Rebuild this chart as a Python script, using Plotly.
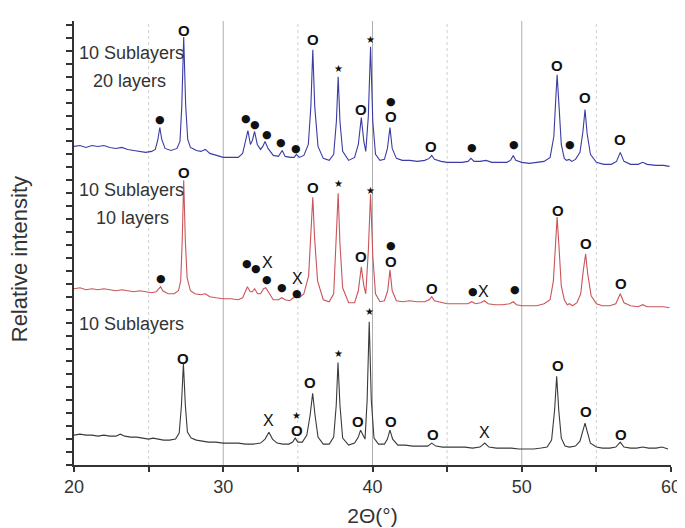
import plotly.graph_objects as go

# ---------------- data ----------------
two_theta_ticks = [20, 30, 40, 50, 60]
grid_major = [30, 40, 50]
grid_minor = [25, 35, 45, 55]

blue_pts = [(20.0, 320), (20.4, 321), (20.8, 319), (21.2, 321), (21.6, 320), (22.0, 321), (22.4, 319), (22.8, 318),
            (23.2, 319), (23.6, 317), (24.0, 316), (24.4, 315), (24.8, 314), (25.2, 315), (25.45, 317), (25.62, 327),
            (25.75, 339), (25.88, 327), (26.1, 318), (26.5, 316), (26.9, 318), (27.1, 325), (27.22, 360), (27.35, 430),
            (27.48, 362), (27.62, 327), (27.8, 319), (27.95, 318), (28.2, 316), (28.5, 315), (28.8, 317), (29.1, 313),
            (29.5, 311), (30.0, 309), (30.5, 309), (31.0, 309), (31.3, 313), (31.5, 326), (31.65, 336), (31.82, 322),
            (31.95, 326), (32.1, 335), (32.28, 322), (32.5, 317), (32.65, 320), (32.8, 325), (33.0, 318), (33.35, 311),
            (33.7, 310), (33.95, 316), (34.15, 310), (34.5, 309), (34.75, 309), (34.9, 312), (35.1, 309), (35.4, 311),
            (35.7, 322), (35.87, 360), (36.0, 417), (36.13, 360), (36.35, 320), (36.7, 308), (37.1, 306), (37.4, 312),
            (37.58, 345), (37.7, 390), (37.82, 345), (38.0, 315), (38.4, 306), (38.8, 309), (39.05, 322), (39.25, 349),
            (39.42, 325), (39.55, 315), (39.72, 350), (39.87, 420), (40.02, 345), (40.2, 312), (40.5, 306), (40.8, 307),
            (41.0, 318), (41.17, 339), (41.32, 318), (41.6, 308), (42.0, 306), (42.5, 306), (43.0, 305), (43.5, 306),
            (43.8, 308), (43.97, 311), (44.15, 307), (44.6, 305), (45.0, 304), (45.5, 304), (46.0, 304), (46.4, 305),
            (46.6, 308), (46.8, 305), (47.2, 305), (47.6, 306), (48.0, 304), (48.5, 304), (49.0, 304), (49.25, 306),
            (49.43, 311), (49.6, 306), (50.0, 304), (50.5, 303), (51.0, 304), (51.5, 305), (51.9, 309), (52.15, 330),
            (52.27, 365), (52.37, 392), (52.5, 360), (52.65, 322), (52.85, 308), (53.0, 306), (53.18, 307), (53.35, 305),
            (53.6, 307), (53.9, 314), (54.1, 335), (54.24, 357), (54.38, 333), (54.6, 312), (55.0, 304), (55.5, 302),
            (56.0, 302), (56.35, 305), (56.6, 314), (56.85, 305), (57.3, 302), (57.8, 302), (58.1, 304), (58.4, 302),
            (59.0, 301), (59.5, 301), (59.9, 300)]

red_pts = [(20.0, 177), (20.4, 178), (20.8, 176), (21.2, 177), (21.6, 176), (22.0, 177), (22.4, 176), (22.8, 175),
           (23.2, 176), (23.6, 175), (24.0, 174), (24.4, 175), (24.8, 174), (25.2, 173), (25.5, 174), (25.65, 177),
           (25.8, 179), (25.95, 175), (26.3, 172), (26.7, 172), (27.0, 175), (27.15, 185), (27.25, 225), (27.35, 286),
           (27.46, 225), (27.58, 188), (27.8, 175), (28.1, 172), (28.5, 171), (28.8, 172), (29.1, 169), (29.5, 168),
           (30.0, 167), (30.5, 167), (31.0, 166), (31.3, 168), (31.5, 176), (31.62, 179), (31.8, 174), (31.95, 174),
           (32.1, 177), (32.3, 172), (32.5, 172), (32.7, 177), (32.85, 178), (33.05, 173), (33.35, 166), (33.7, 166),
           (33.92, 168), (34.15, 166), (34.45, 165), (34.7, 168), (34.85, 170), (35.1, 168), (35.4, 172), (35.72, 190),
           (35.88, 230), (36.0, 269), (36.12, 228), (36.32, 185), (36.7, 166), (37.1, 164), (37.4, 172), (37.58, 225),
           (37.7, 273), (37.82, 222), (38.0, 178), (38.4, 163), (38.8, 163), (39.05, 175), (39.25, 199), (39.42, 180),
           (39.55, 172), (39.72, 215), (39.87, 272), (40.02, 210), (40.2, 172), (40.5, 164), (40.8, 165), (41.02, 175),
           (41.17, 196), (41.32, 175), (41.6, 165), (42.0, 164), (42.5, 165), (43.0, 164), (43.5, 164), (43.8, 166),
           (43.97, 169), (44.15, 165), (44.6, 163), (45.0, 162), (45.5, 162), (46.0, 162), (46.4, 162), (46.65, 164),
           (46.9, 162), (47.25, 163), (47.5, 165), (47.75, 162), (48.2, 161), (48.7, 161), (49.2, 162), (49.43, 164),
           (49.65, 161), (50.0, 160), (50.5, 160), (51.0, 160), (51.5, 162), (51.9, 166), (52.12, 185), (52.25, 220),
           (52.37, 249), (52.5, 218), (52.65, 180), (52.85, 166), (53.05, 161), (53.2, 162), (53.4, 160), (53.7, 163),
           (53.95, 172), (54.12, 195), (54.28, 212), (54.42, 192), (54.65, 170), (55.0, 162), (55.4, 160), (55.9, 160),
           (56.3, 162), (56.6, 172), (56.85, 163), (57.3, 160), (57.8, 159), (58.1, 161), (58.4, 159), (59.0, 159),
           (59.5, 159), (59.9, 158)]

black_pts = [(20.0, 30), (20.4, 31), (20.8, 30), (21.2, 30), (21.6, 29), (22.0, 30), (22.4, 29), (22.8, 29), (23.1, 31),
             (23.4, 29), (23.8, 28), (24.2, 28), (24.6, 27), (25.0, 26), (25.3, 27), (25.6, 26), (26.0, 25), (26.4, 25),
             (26.8, 26), (27.05, 32), (27.2, 60), (27.33, 102), (27.46, 60), (27.6, 33), (27.85, 27), (28.2, 25),
             (28.6, 24), (29.0, 23), (29.5, 23), (30.0, 22), (30.5, 22), (31.0, 22), (31.5, 21), (32.0, 21), (32.5, 22),
             (32.8, 26), (33.06, 33), (33.3, 26), (33.6, 22), (34.0, 21), (34.4, 21), (34.65, 23), (34.82, 27),
             (35.0, 23), (35.3, 23), (35.6, 30), (35.82, 50), (35.99, 72), (36.15, 50), (36.35, 28), (36.7, 21),
             (37.1, 21), (37.4, 28), (37.57, 60), (37.69, 103), (37.82, 60), (38.0, 27), (38.4, 20), (38.8, 22),
             (39.05, 28), (39.2, 35), (39.35, 30), (39.5, 26), (39.64, 65), (39.78, 144), (39.92, 65), (40.1, 27),
             (40.4, 21), (40.8, 21), (41.0, 26), (41.17, 35), (41.35, 26), (41.7, 20), (42.2, 20), (42.7, 19),
             (43.2, 19), (43.7, 19), (43.97, 22), (44.25, 19), (44.7, 18), (45.2, 18), (45.7, 18), (46.2, 18),
             (46.7, 17), (47.2, 18), (47.52, 22), (47.8, 18), (48.3, 17), (48.8, 17), (49.3, 17), (49.8, 16),
             (50.3, 16), (50.8, 16), (51.3, 17), (51.7, 18), (52.0, 25), (52.2, 55), (52.34, 89), (52.48, 55),
             (52.65, 27), (52.9, 19), (53.2, 18), (53.6, 19), (53.9, 24), (54.1, 35), (54.24, 42), (54.38, 34),
             (54.6, 22), (55.0, 18), (55.4, 17), (55.9, 17), (56.3, 18), (56.6, 23), (56.85, 18), (57.3, 17),
             (57.7, 17), (58.1, 18), (58.5, 17), (59.0, 17), (59.4, 18), (59.8, 16)]

# phase markers: (symbol, 2theta, height)
blue_marks = [("O", 27.35, 436), ("●", 25.79, 347), ("●", 31.52, 348), ("●", 32.13, 342), ("●", 32.9, 332),
              ("●", 33.9, 324), ("●", 34.89, 318), ("O", 35.99, 427), ("★", 37.7, 398), ("★", 39.89, 427),
              ("O", 39.23, 357), ("●", 41.23, 365), ("O", 41.23, 350), ("O", 43.92, 320), ("●", 46.68, 319),
              ("●", 49.5, 322), ("O", 52.36, 401), ("●", 53.24, 322), ("O", 54.24, 369), ("O", 56.55, 327)]
red_marks = [("O", 27.35, 294), ("O", 35.99, 279), ("★", 37.7, 283), ("★", 39.89, 276), ("●", 25.8, 187),
             ("●", 31.58, 202), ("●", 32.18, 197), ("X", 32.98, 203), ("●", 32.9, 186), ("●", 33.96, 178),
             ("X", 34.98, 187), ("●", 34.93, 172), ("O", 39.23, 209), ("●", 41.27, 220), ("O", 41.27, 204),
             ("O", 43.99, 177), ("●", 46.74, 174), ("X", 47.47, 174), ("●", 49.54, 176), ("O", 52.41, 256),
             ("O", 54.29, 223), ("O", 56.66, 182)]
black_marks = [("O", 27.33, 107), ("X", 33.06, 45), ("★", 34.93, 50), ("O", 34.93, 35), ("O", 35.84, 83),
               ("★", 37.69, 112), ("O", 39.0, 44), ("★", 39.78, 154), ("O", 41.23, 44), ("O", 44.03, 31),
               ("X", 47.52, 33), ("O", 52.41, 100), ("O", 54.28, 54), ("O", 56.64, 31)]

# sample labels: (text, 2theta of left edge, height)
sample_labels = [("10 Sublayers", 20.22, 414), ("20 layers", 21.15, 386),
                 ("10 Sublayers", 20.22, 276), ("10 layers", 21.35, 248),
                 ("10 Sublayers", 20.22, 142)]

# ---------------- figure ----------------
FONT = "Liberation Sans, Arial, sans-serif"
TXT = "#333333"

fig = go.Figure()
for pts, col in [(black_pts, "#3a3a3a"), (red_pts, "#c9555a"), (blue_pts, "#3b3ba6")]:
    fig.add_trace(go.Scatter(x=[p[0] for p in pts], y=[p[1] for p in pts], mode="lines",
                             line=dict(color=col, width=1.1), hoverinfo="skip", showlegend=False))

shapes = []
for g in grid_major:
    shapes.append(dict(type="line", xref="x", yref="paper", x0=g, x1=g, y0=0, y1=1,
                       line=dict(color="#b0b0b0", width=1), layer="below"))
for g in grid_minor:
    shapes.append(dict(type="line", xref="x", yref="paper", x0=g, x1=g, y0=0, y1=1,
                       line=dict(color="#d0d0d0", width=1, dash="dot"), layer="below"))

sizes = {"O": 15, "X": 16, "●": 11, "★": 10}
annos = []
for marks in (blue_marks, red_marks, black_marks):
    for sym, x, y in marks:
        annos.append(dict(x=x, y=y, xref="x", yref="y",
                          text="<b>O</b>" if sym == "O" else sym, showarrow=False,
                          xanchor="center", yanchor="middle",
                          font=dict(family="DejaVu Sans" if sym in "●★" else FONT,
                                    size=sizes[sym], color="#111111")))
for txt, x, y in sample_labels:
    annos.append(dict(x=x, y=y, xref="x", yref="y", text=txt, showarrow=False,
                      xanchor="left", yanchor="middle", font=dict(family=FONT, size=18, color=TXT)))
annos.append(dict(x=-0.09, y=0.464, xref="paper", yref="paper", text="Relative intensity", textangle=-90,
                  showarrow=False, xanchor="center", yanchor="middle",
                  font=dict(family=FONT, size=22, color=TXT)))

fig.update_layout(
    width=685, height=528,
    margin=dict(l=66, r=13, t=13, b=69),
    paper_bgcolor="white", plot_bgcolor="white",
    shapes=shapes, annotations=annos,
    xaxis=dict(range=[20, 60], tickvals=two_theta_ticks, ticks="outside", ticklen=5, tickwidth=1.5,
               tickcolor="#333333", showline=True, linecolor="#333333", linewidth=1.5, showgrid=False,
               zeroline=False, tickfont=dict(family=FONT, size=18, color=TXT),
               minor=dict(dtick=5, tick0=0, ticks="outside", ticklen=5, tickwidth=1.5, tickcolor="#333333",
                          showgrid=False),
               title=dict(text="2Θ(°)", font=dict(family=FONT, size=21, color=TXT), standoff=12)),
    yaxis=dict(range=[0, 446], tick0=0, dtick=13, ticks="outside", ticklen=6, tickwidth=1.5,
               tickcolor="#333333", showticklabels=False, showline=True, linecolor="#333333",
               linewidth=1.5, showgrid=False, zeroline=False),
)

fig.write_html("out.html")
